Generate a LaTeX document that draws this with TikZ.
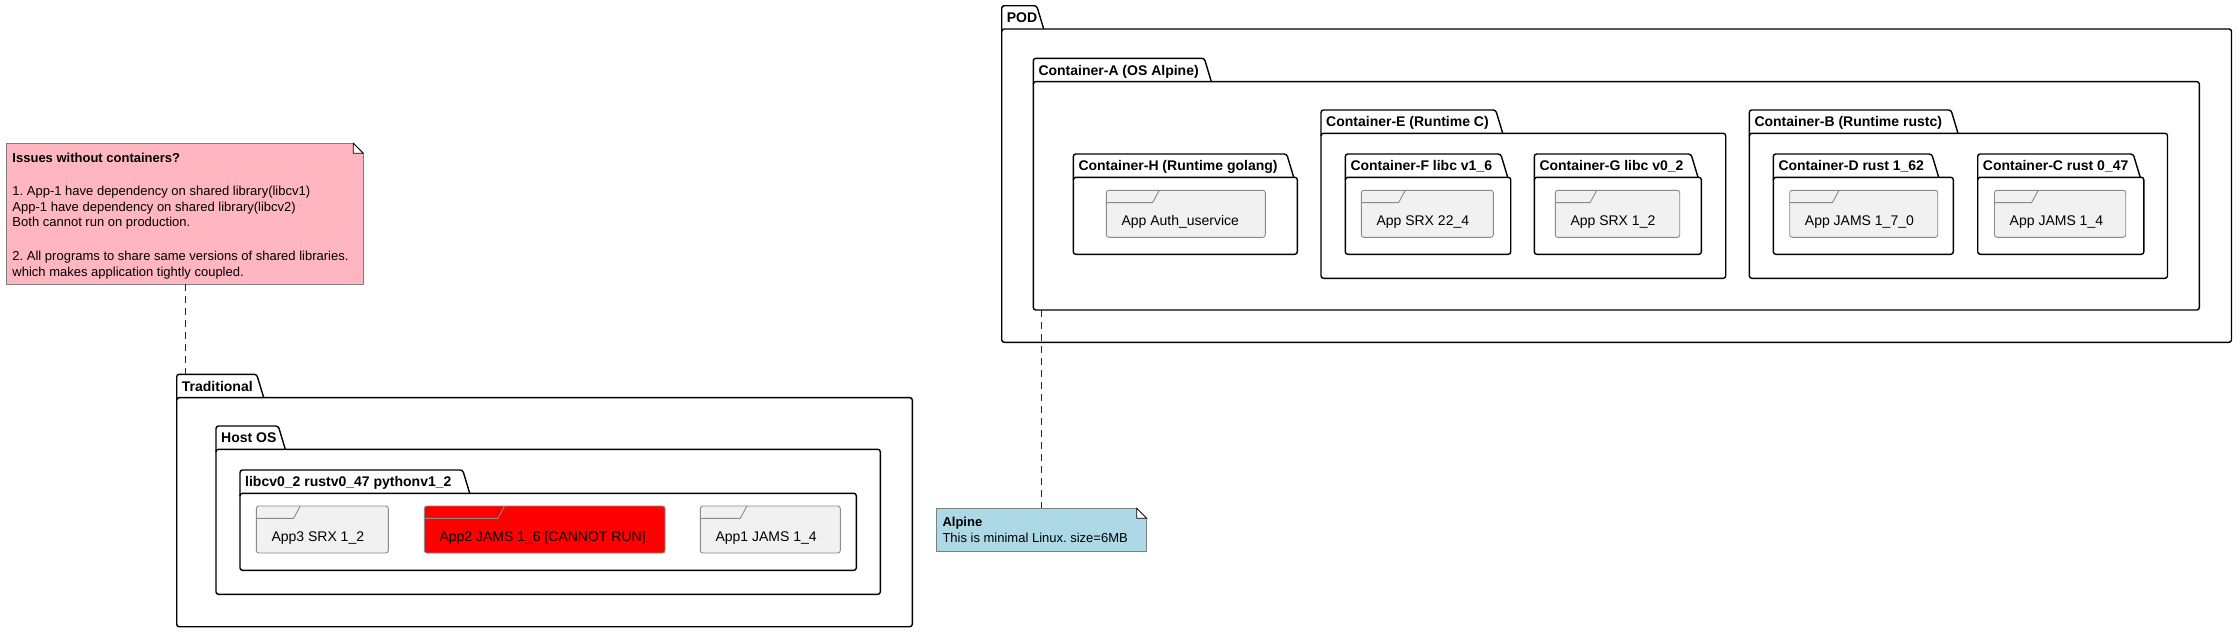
\documentclass[tikz,border=0pt]{standalone}
\usepackage{fontspec}
\setmainfont{Liberation Sans}
\usepackage{xcolor}
\frenchspacing

\definecolor{appfill}{HTML}{F1F1F1}
\definecolor{appline}{HTML}{8A8A8A}
\definecolor{notepink}{HTML}{FFB6C1}
\definecolor{noteblue}{HTML}{ADD8E6}
\definecolor{noteline}{HTML}{7F7F7F}

\tikzset{
    pkgline/.style={draw=black, line width=1.4pt, rounded corners=2.5pt},
    pkgbody/.style={pkgline, rectangle, anchor=north west, inner sep=0pt, outer sep=0pt},
    pkgtitle/.style={anchor=base west, inner sep=0pt, font=\fontsize{14}{16}\selectfont\bfseries},
    appbody/.style={draw=appline, line width=0.9pt, rounded corners=2.5pt, rectangle, anchor=north west, inner sep=0pt, outer sep=0pt, minimum height=47pt},
    appline/.style={draw=appline, line width=0.9pt},
    apptext/.style={anchor=base west, inner sep=0pt, font=\fontsize{14}{16}\selectfont},
    notebody/.style={draw=noteline, line width=0.8pt, rectangle, anchor=north west, inner sep=0pt, outer sep=0pt},
    notetext/.style={anchor=base west, inner sep=0pt, font=\fontsize{13}{15}\selectfont},
    notebold/.style={notetext, font=\fontsize{13}{15}\selectfont\bfseries},
    noteconn/.style={draw=black!85, line width=0.8pt, dash pattern=on 7pt off 5pt}
}

% package: name, left, tab top, tab right, right, bottom, title
\newcommand{\pkgbox}[7]{%
    \draw[pkgline] (#2,#3+26) -- (#2,#3) -- (#4,#3) -- (#4+7,#3+23.3);
    \node[pkgbody, minimum width={(#5-#2)*1pt}, minimum height={(#6-#3-23.3)*1pt}] (#1) at (#2,#3+23.3) {};
    \coordinate (#1-tab) at (#2,#3);
    \node[pkgtitle] (#1-title) at (#2+5,#3+16.7) {#7};
}
% app: name, left, top, right, fill, label
\newcommand{\appbox}[6]{%
    \node[appbody, fill=#5, minimum width={(#4-#2)*1pt}] (#1) at (#2,#3) {};
    \draw[appline] (#2,#3+12.3) -- ({#2+(#4-#2)/3-6.7},#3+12.3) -- ({#2+(#4-#2)/3},#3);
    \node[apptext] (#1-text) at (#2+15,#3+35) {#6};
}
% folded corner: right, top
\newcommand{\notefold}[2]{%
    \fill[white] (#1-10,#2-0.8) -- (#1+0.8,#2-0.8) -- (#1+0.8,#2+10) -- cycle;
    \draw[noteline, line width=0.8pt] (#1-10,#2) -- (#1,#2+10);
    \draw[black, line width=0.8pt, fill=white] (#1-10,#2) -- (#1-10,#2+10) -- (#1,#2+10) -- cycle;
}

\begin{document}
\begin{tikzpicture}[x=1pt, y=-1pt]
    \useasboundingbox (0,0) rectangle (2239,632);

    %Issues note
    \node[notebody, fill=notepink, minimum width=356.6pt, minimum height=141pt] (issues) at (6.7,143.3) {};
    \notefold{363.3}{143.3}
    \node[notebold] (issues-head) at (12.3,162.3) {Issues without containers?};
    \node[notetext] (issues-l1) at (12.3,195.6) {1. App-1 have dependency on shared library(libcv1)};
    \node[notetext] (issues-l2) at (12.3,211.3) {App-1 have dependency on shared library(libcv2)};
    \node[notetext] (issues-l3) at (12.3,226.9) {Both cannot run on production.};
    \node[notetext] (issues-l4) at (12.3,260.6) {2. All programs to share same versions of shared libraries.};
    \node[notetext] (issues-l5) at (12.3,276.3) {which makes application tightly coupled.};

    %Traditional
    \pkgbox{trad}{176.7}{374.3}{256.7}{912.3}{626.7}{Traditional}
    \pkgbox{host}{216}{426}{278.3}{880.3}{594.3}{Host OS}
    \pkgbox{libs}{240}{470}{462.7}{856.3}{570.3}{libcv0\_2 rustv0\_47 pythonv1\_2}
    \appbox{app3}{256.3}{506}{388.3}{appfill}{App3 SRX 1\_2}
    \appbox{app2}{424.3}{506}{665}{red}{App2 JAMS 1\_6 [CANNOT RUN]}
    \appbox{app1}{700.3}{506}{840.3}{appfill}{App1 JAMS 1\_4}

    %POD
    \pkgbox{pod}{1001.7}{5.7}{1036.7}{2231.5}{342.3}{POD}
    \pkgbox{contA}{1033.3}{58.3}{1204.3}{2199.3}{310}{Container-A (OS Alpine)}
    \pkgbox{contH}{1073.3}{154}{1286.7}{1297.3}{254.3}{Container-H (Runtime golang)}
    \pkgbox{contE}{1321}{110}{1495.7}{1725.7}{278.3}{Container-E (Runtime C)}
    \pkgbox{contF}{1345.3}{154}{1500.7}{1510.7}{254.3}{Container-F libc v1\_6}
    \pkgbox{contG}{1534.3}{154}{1691}{1701.3}{254.3}{Container-G libc v0\_2}
    \pkgbox{contB}{1749.3}{110}{1951}{2167.5}{278.3}{Container-B (Runtime rustc)}
    \pkgbox{contD}{1773.3}{154}{1931.7}{1953.3}{254.3}{Container-D rust 1\_62}
    \pkgbox{contC}{1977.7}{154}{2133.2}{2143.8}{254.3}{Container-C rust 0\_47}
    \appbox{auth}{1106.3}{190.3}{1265.3}{appfill}{App Auth\_uservice}
    \appbox{srxF}{1361.3}{190.3}{1493.3}{appfill}{App SRX 22\_4}
    \appbox{srxG}{1555.3}{190.3}{1679.7}{appfill}{App SRX 1\_2}
    \appbox{jamsD}{1789.7}{190.3}{1937.7}{appfill}{App JAMS 1\_7\_0}
    \appbox{jamsC}{1994.5}{190.3}{2125.7}{appfill}{App JAMS 1\_4}

    %Alpine note
    \node[notebody, fill=noteblue, minimum width=210.4pt, minimum height=42.7pt] (alpine) at (936.3,508.3) {};
    \notefold{1146.7}{508.3}
    \node[notebold] (alpine-head) at (942.3,526.6) {Alpine};
    \node[notetext] (alpine-l1) at (942.3,542.6) {This is minimal Linux. size=6MB};

    %Note links
    \draw[noteconn] (issues.south) -- (issues.south |- trad-tab);
    \draw[noteconn] (contA.south -| alpine.north) -- (alpine.north);
\end{tikzpicture}
\end{document}
